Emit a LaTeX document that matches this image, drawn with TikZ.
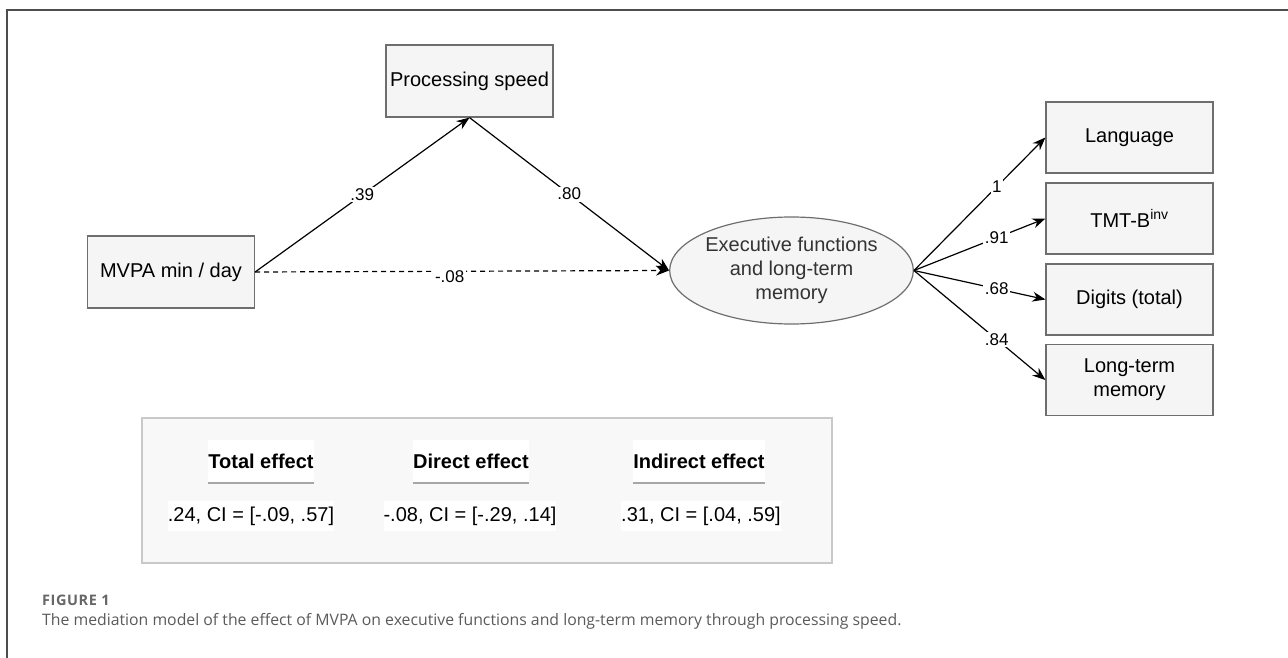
\documentclass[tikz,border=0pt]{standalone}
\usepackage{fontspec}
\setmainfont{Liberation Sans}
\newfontfamily\capfont{Open Sans}
\newfontfamily\figfont{Open Sans}[LetterSpace=4]
\usetikzlibrary{arrows.meta,shapes.geometric}

\definecolor{boxfill}{HTML}{F5F5F5}
\definecolor{boxline}{HTML}{6E6E6E}
\definecolor{panelfill}{HTML}{F8F8F8}
\definecolor{panelline}{HTML}{C9C9C9}
\definecolor{frameline}{HTML}{4D4D4D}
\definecolor{captext}{HTML}{5A5A5A}

\begin{document}
\begin{tikzpicture}[x=1pt, y=-1pt,
  var/.style={draw=boxline, fill=boxfill, line width=1.2pt, minimum width=167pt,
    minimum height=72pt, inner sep=0pt, align=center, font=\fontsize{20}{24}\selectfont},
  latent/.style={ellipse, draw=boxline, fill=boxfill, line width=1.2pt, minimum width=205pt,
    minimum height=107pt, inner sep=0pt, align=center, text=black!80,
    font=\fontsize{20}{24}\selectfont},
  arr/.style={-{Stealth[length=13pt,width=10pt]}, line width=1.2pt},
  coef/.style={fill=white, inner sep=1.5pt, font=\fontsize{17}{20}\selectfont},
  hdr/.style={fill=white, anchor=south, inner xsep=0pt, inner ysep=14pt, text depth=0pt,
    font=\fontsize{20}{24}\selectfont\bfseries},
  val/.style={fill=white, inner xsep=0pt, inner ysep=6pt, font=\fontsize{20}{24}\selectfont},
  rule/.style={draw=black!35, line width=1.5pt}]
  \useasboundingbox (0,0) rectangle (1288,658);

  % panel frame
  \draw[frameline, line width=1.6pt] (1288,10) -- (7,10) -- (7,658);

  % model
  \node[var] (MVPA) at (171,272) {MVPA min / day};
  \node[var] (SPEED) at (469.5,81) {Processing speed};
  \node[latent] (EXEC) at (791.5,270.5) {Executive functions\\and long-term\\memory};
  \node[var, minimum height=71pt] (LANG) at (1129.5,137.5) {Language};
  \node[var, minimum height=71pt] (TMT) at (1129.5,218.5) {TMT-B\textsuperscript{inv}};
  \node[var, minimum height=71pt] (DIG) at (1129.5,299.5) {Digits (total)};
  \node[var, minimum height=71pt] (LTM) at (1129.5,380) {Long-term\\memory};

  \draw[arr] (MVPA.east) -- (SPEED.south) node[coef, midway] {.39};
  \draw[arr] (SPEED.south) -- (EXEC.west) node[coef, midway] {.80};
  \draw[arr, dashed, dash pattern=on 5pt off 4pt] (MVPA.east) -- (EXEC.west)
    node[coef, pos=0.47, yshift=-5pt] {-.08};
  \draw[arr] (EXEC.east) -- (LANG.west) node[coef, pos=0.63] {1};
  \draw[arr] (EXEC.east) -- (TMT.west) node[coef, pos=0.63] {.91};
  \draw[arr] (EXEC.east) -- (DIG.west) node[coef, pos=0.63] {.68};
  \draw[arr] (EXEC.east) -- (LTM.west) node[coef, pos=0.63] {.84};

  % effects table
  \node[draw=panelline, fill=panelfill, line width=1.5pt, minimum width=690pt,
    minimum height=145pt] (EFFECTS) at (487,490.5) {};
  \node[hdr] (TOTH) at (261,483) {Total effect};
  \node[hdr] (DIRH) at (471,483) {Direct effect};
  \node[hdr] (INDH) at (699,483) {Indirect effect};
  \draw[rule] (TOTH.south west) -- (TOTH.south east);
  \draw[rule] (DIRH.south west) -- (DIRH.south east);
  \draw[rule] (INDH.south west) -- (INDH.south east);
  \node[val] (TOTV) at (251,516) {.24, CI = [-.09, .57]};
  \node[val] (DIRV) at (470,516) {-.08, CI = [-.29, .14]};
  \node[val] (INDV) at (701,516) {.31, CI = [.04, .59]};

  % caption
  \node[anchor=west, inner sep=0pt, text=black!60, font=\figfont\fontsize{14.5}{17}\selectfont\bfseries]
    (FIG) at (42,600) {FIGURE 1};
  \node[anchor=west, inner sep=0pt, text=captext, font=\capfont\fontsize{15.8}{19}\selectfont]
    (CAP) at (42,621) {The mediation model of the effect of MVPA on executive functions and long-term memory through processing speed.};
\end{tikzpicture}
\end{document}
